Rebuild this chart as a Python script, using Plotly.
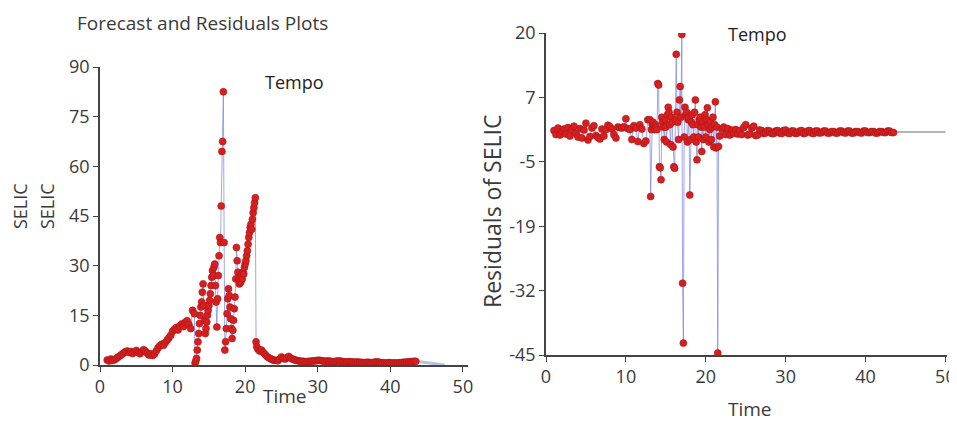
import numpy as np
import plotly.graph_objects as go

# ---------------- data ----------------
# time grid (monthly-like sampling, denser in the volatile part)
TIME_A = np.round(np.arange(1.0, 12.76, 0.25), 2)    # 48 pts
TIME_B = np.round(np.arange(13.0, 21.61, 0.1), 2)    # 87 pts
TIME_C = np.round(np.arange(21.75, 24.01, 0.25), 2)  # 10 pts
TIME_D = np.round(np.arange(24.25, 43.51, 0.25), 2)  # 78 pts

SELIC_A = [1.5, 1.2, 1.8, 1.4, 1.6, 2.0, 2.4, 2.8, 3.2, 3.6, 4.0, 4.2, 3.8, 4.1, 3.5, 3.9,
           4.4, 3.8, 3.4, 4.0, 4.6, 4.2, 3.6, 3.0, 3.4, 2.9, 3.3, 4.2, 5.2, 5.8, 6.3, 6.0,
           6.8, 7.5, 8.2, 9.0, 10.2, 10.8, 11.3, 10.6, 11.8, 12.4, 11.6, 12.9, 13.4, 12.2,
           11.0, 16.5]
SELIC_B = [15.5, 0.6, 1.2, 2.0, 4.5, 7.0, 9.5, 12.5, 15.0, 17.5,
           19.0, 22.0, 24.5, 18.0, 13.5, 9.5, 11.0, 13.0, 15.0, 16.5,
           18.0, 19.5, 21.5, 24.0, 26.5, 28.5, 27.0, 29.5, 30.5, 24.0,
           19.0, 11.5, 20.0, 27.0, 33.0, 38.5, 37.0, 48.0, 64.5, 67.5,
           82.5, 37.0, 4.5, 7.0, 11.0, 15.5, 20.0, 23.0, 21.0, 17.5,
           14.0, 11.0, 8.0, 10.5, 13.5, 17.0, 20.5, 26.0, 35.5, 31.5,
           28.0, 26.0, 24.5, 26.5, 25.0, 27.0, 26.0, 28.0, 27.5, 29.5,
           30.5, 31.5, 33.0, 34.5, 36.5, 38.5, 40.0, 41.5, 42.5, 41.0,
           44.0, 46.0, 47.5, 49.0, 50.5, 7.0, 5.5]
SELIC_C = [4.8, 4.2, 4.5, 3.8, 3.2, 2.6, 2.2, 1.9, 1.6, 1.4]
SELIC_D = [1.4, 1.3, 1.8, 2.4, 2.0, 1.8, 2.2, 2.6, 2.1, 1.8,
           1.6, 1.4, 1.3, 1.2, 1.1, 1.1, 1.0, 1.0, 1.1, 1.1,
           1.2, 1.2, 1.3, 1.4, 1.4, 1.3, 1.2, 1.1, 1.2, 1.2,
           1.1, 1.0, 1.0, 1.1, 1.2, 1.2, 1.1, 1.0, 0.9, 0.9,
           1.0, 1.0, 0.9, 0.8, 0.9, 0.9, 0.8, 0.8, 0.7, 0.7,
           0.8, 0.8, 0.7, 0.7, 0.8, 0.9, 0.9, 0.8, 0.7, 0.7,
           0.6, 0.6, 0.7, 0.7, 0.6, 0.6, 0.6, 0.6, 0.7, 0.7,
           0.8, 0.8, 0.9, 0.9, 1.0, 1.0, 1.1, 1.1]

RESID_A = [0.3, -0.5, 0.8, -0.6, 0.2, 0.6, -0.4, 0.9, -0.8, 0.5, 1.2, -0.3, -1.0, 0.7,
           -1.2, 0.4, 1.8, -1.6, -0.9, 0.8, 1.3, -0.7, -1.1, -1.4, 0.6, -0.8, 0.5, 1.4,
           1.1, 0.6, -0.5, -1.2, 1.0, 0.9, 0.8, 1.1, 2.7, 0.7, 0.5, -1.5, 1.3, 0.8, -1.9,
           1.5, 0.6, -2.3, -1.8, 2.5]
RESID_B = [2.5, -13.0, 0.5, 1.5, 2.0, 1.0, 0.5, 1.5, 1.0, 0.5,
           9.8, 9.5, -7.0, -7.2, -9.6, 3.0, 2.0, 1.0, -1.5, 2.5,
           1.0, -2.0, 3.5, 5.0, 4.0, 1.5, -2.5, 3.0, 2.0, -3.0,
           -7.0, -7.3, 2.5, 15.7, 4.0, 2.0, -1.5, 6.5, 9.2, 3.0,
           19.7, -30.5, -42.6, -1.0, 5.0, 3.5, 4.0, -2.0, 2.5, 3.0,
           -12.7, -1.5, 2.0, 3.5, 1.5, -1.0, 4.0, 6.5, -2.0, -5.6,
           1.5, -1.0, 2.5, 3.0, 1.0, -3.9, 2.0, -1.5, 1.0, 3.5,
           -1.0, 2.5, 4.9, 1.5, -2.0, 0.5, 2.0, -1.5, 1.0, 3.0,
           -3.0, 1.5, 6.1, -3.2, 1.0, -44.6, -2.9]
RESID_C = [-0.8, 0.6, 1.0, -0.5, 0.7, -0.6, 0.4, -0.3, 0.5, -0.4]
RESID_D = [0.3, -0.5, 0.9, 1.5, -0.6, -0.4, 0.8, 1.2, -0.7, -0.6,
           0.4, 0.3, -0.3, -0.2, 0.3, 0.2, -0.3, -0.3, 0.2, 0.3,
           -0.2, -0.3, 0.3, 0.4, -0.2, -0.3, 0.2, 0.2, -0.3, -0.2,
           0.2, 0.3, -0.3, -0.2, 0.2, 0.3, -0.2, -0.3, 0.2, 0.2,
           -0.2, -0.1, 0.2, 0.2, -0.2, -0.2, 0.1, 0.1, -0.2, -0.2,
           0.2, 0.2, -0.1, -0.2, 0.2, 0.2, -0.2, -0.2, 0.1, 0.1,
           -0.1, -0.2, 0.2, 0.2, -0.1, -0.1, 0.1, 0.1, -0.2, -0.2,
           0.1, 0.1, -0.1, -0.1, 0.2, 0.2, -0.1, -0.1]

FORECAST_T = [43.5, 44.5, 45.5, 46.5, 47.5]
FORECAST_V = [1.1, 0.9, 0.6, 0.3, 0.0]
ZERO_T = [43.5, 50.0]
ZERO_V = [0.0, 0.0]

X_TICKS = [0, 10, 20, 30, 40, 50]
L_Y_TICKS = [0, 15, 30, 45, 60, 75, 90]
R_Y_TICKVALS = [20, 7, -6, -19, -32, -45]
R_Y_TICKTEXT = ["20", "7", "-5", "-19", "-32", "-45"]

for a, b in [(TIME_A, SELIC_A), (TIME_B, SELIC_B), (TIME_C, SELIC_C), (TIME_D, SELIC_D),
             (TIME_A, RESID_A), (TIME_B, RESID_B), (TIME_C, RESID_C), (TIME_D, RESID_D)]:
    if len(a) != len(b):
        raise ValueError(f"length mismatch {len(a)} vs {len(b)}")

TIME = list(TIME_A) + list(TIME_B) + list(TIME_C) + list(TIME_D)
SELIC = SELIC_A + SELIC_B + SELIC_C + SELIC_D
RESID = RESID_A + RESID_B + RESID_C + RESID_D

# ---------------- figure ----------------
OFF = 8  # page body margin shifts the figure by this many pixels
W, H = 957 - OFF, 430 - 2 * OFF   # keep the page free of scrollbars
FONT = "Open Sans"
TXT = "#3a3a3a"
RED = "#d81f1f"
LINE_BLUE = "rgba(125,135,228,0.75)"


def px_x(p):
    return (p - OFF) / W


def px_y(p):
    return 1 - (p - OFF) / H


fig = go.Figure()

# left: forecast tail + series
fig.add_trace(go.Scatter(x=FORECAST_T, y=FORECAST_V, mode="lines",
                         line=dict(color="rgba(170,178,220,0.8)", width=3),
                         xaxis="x", yaxis="y", showlegend=False, hoverinfo="skip"))
fig.add_trace(go.Scatter(x=TIME, y=SELIC, mode="lines+markers",
                         line=dict(color=LINE_BLUE, width=1),
                         marker=dict(color=RED, size=7, line=dict(color="#a81515", width=0.6)),
                         xaxis="x", yaxis="y", showlegend=False))

# right: zero line + residuals
fig.add_trace(go.Scatter(x=ZERO_T, y=ZERO_V, mode="lines",
                         line=dict(color="#b4b4b4", width=2),
                         xaxis="x2", yaxis="y2", showlegend=False, hoverinfo="skip"))
fig.add_trace(go.Scatter(x=TIME, y=RESID, mode="lines+markers",
                         line=dict(color=LINE_BLUE, width=1),
                         marker=dict(color=RED, size=7, line=dict(color="#a81515", width=0.6)),
                         xaxis="x2", yaxis="y2", showlegend=False))

axis_common = dict(showgrid=False, zeroline=False, showline=True, linecolor="#444",
                   linewidth=1.5, ticks="outside", ticklen=5, tickcolor="#444",
                   automargin=False,
                   tickfont=dict(family=FONT, size=18, color=TXT))

fig.update_layout(
    template="none",
    width=W, height=H,
    margin=dict(l=0, r=0, t=0, b=0, pad=0, autoexpand=False),
    paper_bgcolor="white", plot_bgcolor="white",
    showlegend=False,
    xaxis=dict(domain=[px_x(100), px_x(468)], range=[0, 50.7], tickvals=X_TICKS,
               anchor="y", **axis_common),
    yaxis=dict(domain=[px_y(365), px_y(67)], range=[0, 90], tickvals=L_Y_TICKS,
               anchor="x", **axis_common),
    xaxis2=dict(domain=[px_x(546), px_x(947)], range=[0, 50.2], tickvals=X_TICKS,
                anchor="y2", **axis_common),
    yaxis2=dict(domain=[px_y(355), px_y(33)], range=[-45, 20], tickvals=R_Y_TICKVALS,
                ticktext=R_Y_TICKTEXT, anchor="x2", **axis_common),
)

annots = [
    dict(text="Forecast and Residuals Plots", x=px_x(75), y=px_y(23), xanchor="left",
         yanchor="middle", font=dict(family=FONT, size=19, color=TXT)),
    dict(text="Tempo", x=px_x(294), y=px_y(82), xanchor="center", yanchor="middle",
         font=dict(family=FONT, size=18, color="#222")),
    dict(text="Tempo", x=px_x(757), y=px_y(34), xanchor="center", yanchor="middle",
         font=dict(family=FONT, size=18, color="#222")),
    dict(text="Time", x=px_x(285), y=px_y(396), xanchor="center", yanchor="middle",
         font=dict(family=FONT, size=19, color=TXT)),
    dict(text="Time", x=px_x(750), y=px_y(409), xanchor="center", yanchor="middle",
         font=dict(family=FONT, size=19, color=TXT)),
    dict(text="SELIC", x=px_x(20), y=px_y(206), xanchor="center", yanchor="middle",
         textangle=-90, font=dict(family=FONT, size=18, color=TXT)),
    dict(text="SELIC", x=px_x(47), y=px_y(206), xanchor="center", yanchor="middle",
         textangle=-90, font=dict(family=FONT, size=18, color=TXT)),
    dict(text="Residuals of SELIC", x=px_x(492), y=px_y(212), xanchor="center",
         yanchor="middle", textangle=-90, font=dict(family=FONT, size=23, color=TXT)),
]
for a in annots:
    a.update(xref="paper", yref="paper", showarrow=False)
fig.update_layout(annotations=annots)

fig.write_html("out.html")
